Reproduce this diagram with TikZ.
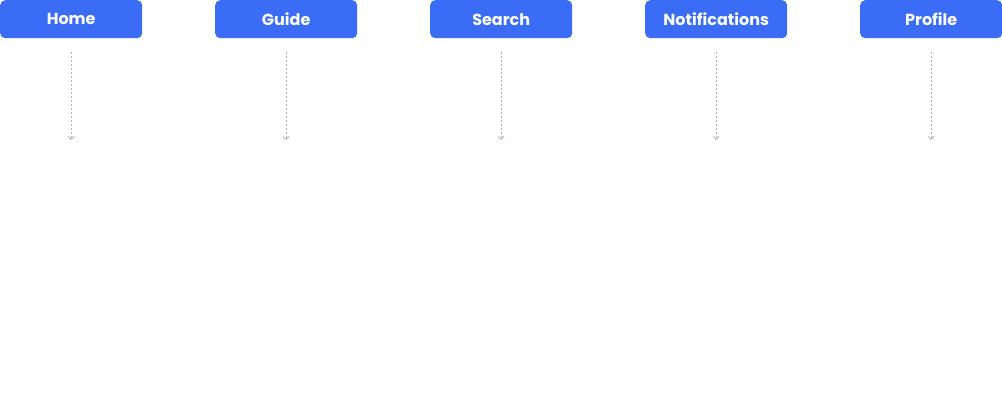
\documentclass[tikz,border=0pt]{standalone}
\usepackage{fontspec}
\setmainfont{Poppins}
\usetikzlibrary{arrows.meta}
\definecolor{navblue}{HTML}{3B6CF6}
\definecolor{linegray}{HTML}{B4B4B4}
\tikzset{
  navbox/.style={fill=navblue, rounded corners=5pt, minimum width=142pt, minimum height=38pt, inner sep=0pt, text=white, font=\fontsize{16}{19}\selectfont\bfseries, anchor=north west},
  link/.style={draw=linegray, line width=0.9pt, dash pattern=on 2pt off 2pt, -{Straight Barb[length=3pt,width=6pt,line width=0.8pt]}}
}
\begin{document}
\begin{tikzpicture}[x=1pt,y=-1pt]
\useasboundingbox (0,0) rectangle (1002,413);
\node[navbox] (home) at (0,0) {Home};
\node[navbox] (guide) at (215,0) {Guide};
\node[navbox] (search) at (430,0) {Search};
\node[navbox] (notif) at (645,0) {Notifications};
\node[navbox] (profile) at (860,0) {Profile};
\foreach \n/\x in {home/71,guide/286,search/501,notif/716,profile/931}{
  \coordinate (\n-s) at (\x,52);
  \coordinate (\n-e) at (\x,140);
  \draw[link] (\n-s) -- (\n-e);
}
\end{tikzpicture}
\end{document}
